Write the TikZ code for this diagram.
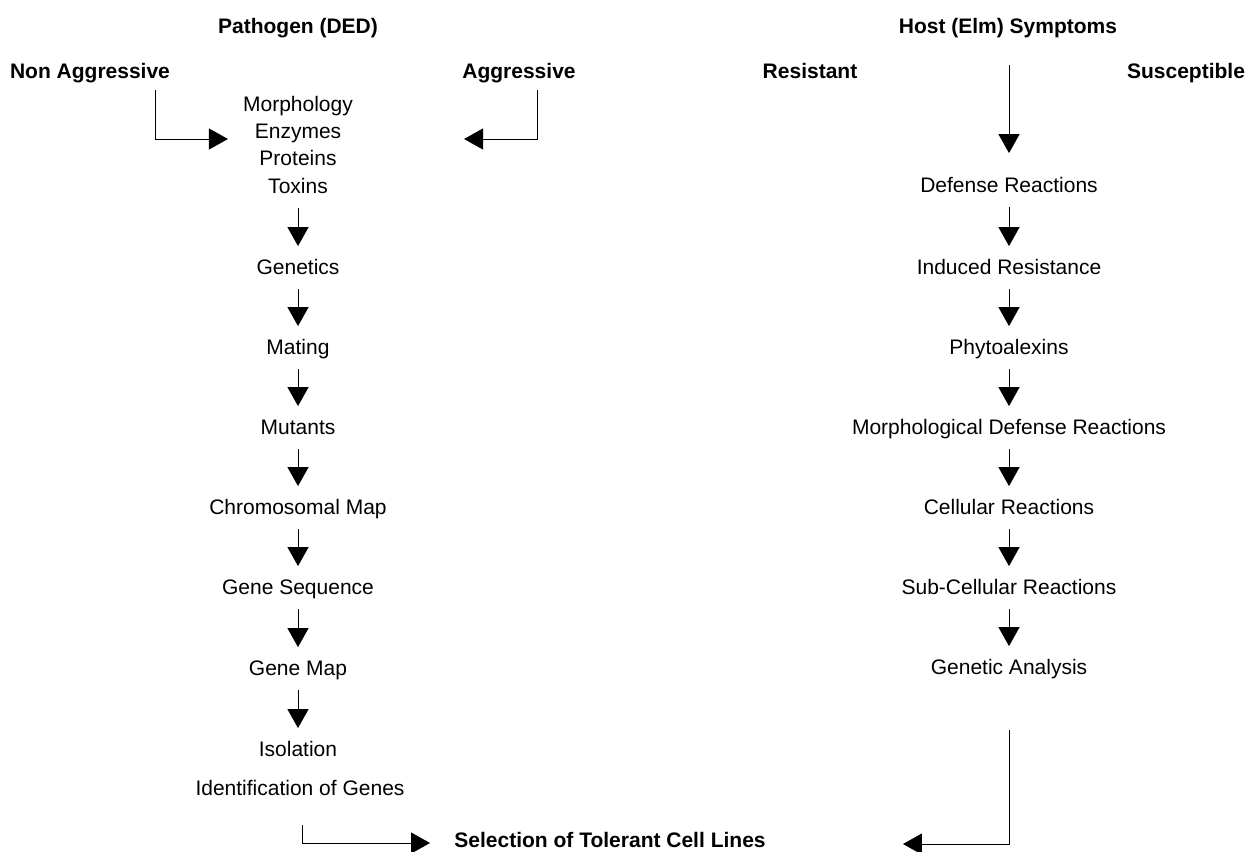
\documentclass[tikz,border=0pt]{standalone}
\usepackage{fontspec}
\setmainfont{Liberation Sans}
\usetikzlibrary{arrows.meta}
\begin{document}
\begin{tikzpicture}[x=0.5pt,y=-0.5pt,
  txt/.style={font=\fontsize{10.5}{12.6}\selectfont,inner sep=0pt,
    text height=7.5pt,text depth=0pt},
  hd/.style={txt,font=\fontsize{10.5}{12.6}\selectfont\bfseries},
  arr/.style={-{Triangle[length=9.5pt,width=10.5pt]},line width=0.5pt,
    shorten <=7pt,shorten >=6.5pt},
  elb/.style={-{Triangle[length=9.5pt,width=10.5pt]},line width=0.5pt}]
\useasboundingbox (0,0) rectangle (1251,851);

% pathogen side
\node[hd] (path) at (298,26) {Pathogen (DED)};
\node[hd] (nonag) at (90,71) {Non Aggressive};
\node[hd] (ag) at (519,71) {Aggressive};

\node[txt] (morph) at (298,104) {Morphology};
\node[txt] (enz) at (298,131) {Enzymes};
\node[txt] (prot) at (298,158) {Proteins};
\node[txt] (tox) at (298,186) {Toxins};
\node[txt] (genet) at (298,267) {Genetics};
\node[txt] (mating) at (298,347) {Mating};
\node[txt] (mutants) at (298,427) {Mutants};
\node[txt] (chrom) at (298,507) {Chromosomal Map};
\node[txt] (geneseq) at (298,587) {Gene Sequence};
\node[txt] (genemap) at (298,668) {Gene Map};
\node[txt] (isol) at (298,749) {Isolation};
\node[txt] (ident) at (300,788) {Identification of Genes};

\draw[elb] ([shift={(-15,11.5)}]nonag.south east) |- ([shift={(-26.5,8)}]enz.west);
\draw[elb] ([shift={(18,11.5)}]ag.south) |- ([shift={(122.5,8)}]enz.east);

\draw[arr] (tox) -- (genet);
\draw[arr] (genet) -- (mating);
\draw[arr] (mating) -- (mutants);
\draw[arr] (mutants) -- (chrom);
\draw[arr] (chrom) -- (geneseq);
\draw[arr] (geneseq) -- (genemap);
\draw[arr] (genemap) -- (isol);

% host side
\node[hd] (host) at (1008,26) {Host (Elm) Symptoms};
\node[hd] (resist) at (810,71) {Resistant};
\node[hd] (suscep) at (1186,71) {Susceptible};

\node[txt] (defense) at (1009,185) {Defense Reactions};
\node[txt] (induced) at (1009,267) {Induced Resistance};
\node[txt] (phyto) at (1009,347) {Phytoalexins};
\node[txt] (morphdef) at (1009,427) {Morphological Defense Reactions};
\node[txt] (cellular) at (1009,507) {Cellular Reactions};
\node[txt] (subcell) at (1009,587) {Sub-Cellular Reactions};
\node[txt] (genan) at (1009,667) {Genetic Analysis};

\coordinate (hosttop) at ([shift={(1,31.5)}]host.south);
\draw[arr,shorten <=0pt,shorten >=12pt] (hosttop) -- (defense);
\draw[arr] (defense) -- (induced);
\draw[arr] (induced) -- (phyto);
\draw[arr] (phyto) -- (morphdef);
\draw[arr] (morphdef) -- (cellular);
\draw[arr] (cellular) -- (subcell);
\draw[arr] (subcell) -- (genan);

% joint result
\node[hd] (sel) at (610,840) {Selection of Tolerant Cell Lines};
\draw[elb] ([shift={(2,29)}]ident.south) |- ([shift={(-24,3)}]sel.west);
\draw[elb] ([shift={(0,55.5)}]genan.south) |- ([shift={(137,4)}]sel.east);
\end{tikzpicture}
\end{document}
